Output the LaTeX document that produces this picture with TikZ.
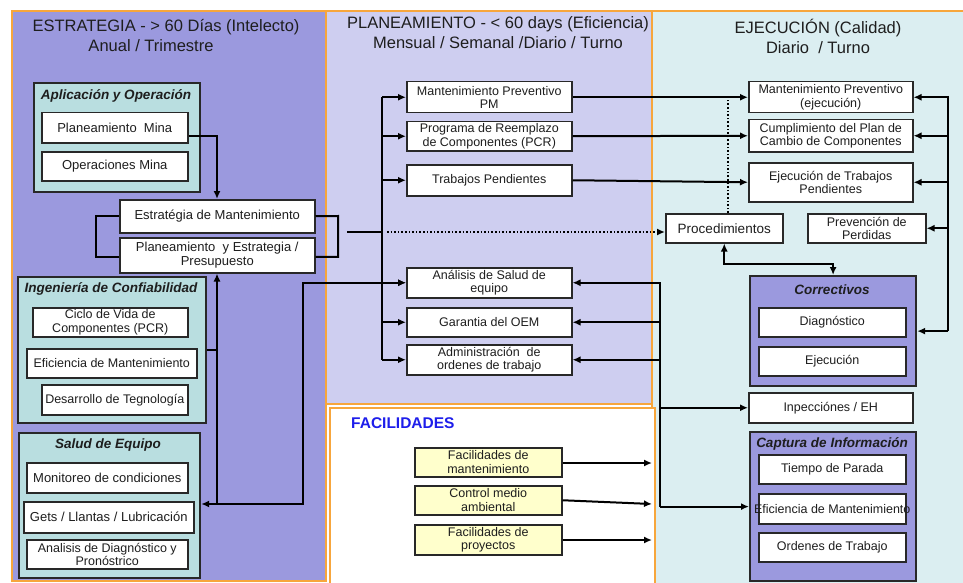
\documentclass[tikz,border=0pt]{standalone}
\usepackage{fontspec}
\setmainfont{Liberation Sans}
\usetikzlibrary{arrows.meta}

\definecolor{stratfill}{RGB}{155,153,222}
\definecolor{planfill}{RGB}{206,206,240}
\definecolor{execfill}{RGB}{219,238,241}
\definecolor{tealfill}{RGB}{185,222,224}
\definecolor{facfill}{RGB}{255,255,204}
\definecolor{panelline}{RGB}{247,166,60}
\definecolor{boxline}{RGB}{40,40,40}
\definecolor{factitle}{RGB}{30,30,235}
\definecolor{inktext}{RGB}{30,30,30}

\tikzset{
  panel/.style={draw=panelline, line width=1.3pt},
  box/.style={draw=boxline, fill=white, line width=1.5pt, align=center, text=inktext,
    inner sep=0pt, anchor=north west, font=\fontsize{12.5}{13.5}\selectfont},
  bigbox/.style={box, font=\fontsize{13}{14.5}\selectfont},
  facbox/.style={box, fill=facfill},
  grp/.style={draw=boxline, line width=2.2pt, inner sep=0pt, anchor=north west},
  grptitle/.style={font=\fontsize{13.5}{15}\selectfont\bfseries\itshape, inner sep=0pt, text=inktext},
  ptitle/.style={font=\fontsize{16.5}{20}\selectfont, align=center, inner sep=0pt, text=inktext},
  conn/.style={line width=2pt, black},
  tip/.style={-{Latex[length=8pt,width=7pt]}},
  arr/.style={conn, tip},
  dualarr/.style={conn, {Latex[length=8pt,width=7pt]}-{Latex[length=8pt,width=7pt]}},
  dots/.style={line width=1.6pt, black, dotted}
}

\begin{document}
\begin{tikzpicture}[x=1pt,y=-1pt]
\useasboundingbox (0,0) rectangle (963,583);
\fill[white] (0,0) rectangle (963,583);

% ---------- stage panels ----------
\filldraw[panel, fill=execfill] (652,11) rectangle (975,595);
\filldraw[panel, fill=stratfill] (12,11) rectangle (326,581);
\filldraw[panel, fill=planfill] (326,11) rectangle (652,404);
\filldraw[panel, fill=white] (330,408) rectangle (655,595);

\node[ptitle] (tE) at (166,36) {ESTRATEGIA - > 60 Días (Intelecto)\\\hspace*{-30pt}Anual / Trimestre};
\node[ptitle] (tP) at (498,33) {PLANEAMIENTO - < 60 days (Eficiencia)\\Mensual / Semanal /Diario / Turno};
\node[ptitle] (tX) at (818,36) {EJECUCIÓN (Calidad)\\Diario \ / Turno};
\node[font=\fontsize{15.5}{18}\selectfont\bfseries, text=factitle, anchor=west, inner sep=0pt] (tF) at (351,423) {FACILIDADES};

% ---------- strategy column ----------
\node[grp, fill=tealfill, minimum width=166pt, minimum height=109pt] (gAO) at (33,82) {};
\node[grptitle] (hAO) at (116,96) {Aplicación y Operación};
\node[bigbox, minimum width=146pt, minimum height=30pt] (bPM) at (41,112) {Planeamiento \ Mina};
\node[bigbox, minimum width=146pt, minimum height=29pt] (bOM) at (41,151) {Operaciones Mina};

\node[bigbox, minimum width=195pt, minimum height=33pt] (bEM) at (119,199) {Estratégia de Mantenimiento};
\node[bigbox, minimum width=195pt, minimum height=35pt] (bPE) at (119,237) {Planeamiento \ y Estrategia /\\Presupuesto};

\node[grp, fill=tealfill, minimum width=188pt, minimum height=146pt] (gIC) at (17,276) {};
\node[grptitle] (hIC) at (111,289) {Ingeniería de Confiabilidad};
\node[box, minimum width=155pt, minimum height=29pt] (bCV) at (32,307) {Ciclo de Vida de\\Componentes (PCR)};
\node[box, minimum width=170pt, minimum height=29pt] (bEF) at (26,348) {Eficiencia de Mantenimiento};
\node[box, minimum width=146pt, minimum height=30pt] (bDT) at (41,384) {Desarrollo de Tegnología};

\node[grp, fill=tealfill, minimum width=181pt, minimum height=145pt] (gSE) at (18,432) {};
\node[grptitle] (hSE) at (108,445) {Salud de Equipo};
\node[bigbox, minimum width=161pt, minimum height=30pt] (bMC) at (26,462) {Monitoreo de condiciones};
\node[bigbox, minimum width=170pt, minimum height=31pt] (bGL) at (23,501) {Gets / Llantas / Lubricación};
\node[box, minimum width=161pt, minimum height=29pt] (bAD) at (26,539) {Analisis de Diagnóstico y\\Pronóstrico};

% ---------- planning column ----------
\node[box, minimum width=165pt, minimum height=31pt] (mMP) at (406,81) {Mantenimiento Preventivo\\PM};
\node[box, minimum width=165pt, minimum height=29pt] (mPCR) at (406,121) {Programa de Reemplazo\\de Componentes (PCR)};
\node[box, minimum width=165pt, minimum height=31pt] (mTP) at (406,164) {Trabajos Pendientes};
\node[box, minimum width=165pt, minimum height=30pt] (mAS) at (406,267) {Análisis de Salud de\\equipo};
\node[box, minimum width=165pt, minimum height=29pt] (mGO) at (406,307) {Garantia del OEM};
\node[box, minimum width=165pt, minimum height=30pt] (mAO) at (406,344) {Administración \ de\\ordenes de trabajo};

% ---------- facilities ----------
\node[facbox, minimum width=147pt, minimum height=29pt] (fM) at (414,447) {Facilidades de\\mantenimiento};
\node[facbox, minimum width=147pt, minimum height=29pt] (fC) at (414,485) {Control medio\\ambiental};
\node[facbox, minimum width=147pt, minimum height=30pt] (fP) at (414,524) {Facilidades de\\proyectos};
\coordinate (fMend) at (652,463);
\coordinate (fCend) at (652,504);
\coordinate (fPend) at (652,540);

% ---------- execution column ----------
\node[box, minimum width=164pt, minimum height=31pt] (rMP) at (748,81) {Mantenimiento Preventivo\\(ejecución)};
\node[box, minimum width=164pt, minimum height=32pt] (rCP) at (748,119) {Cumplimiento del Plan de\\Cambio de Componentes};
\node[box, minimum width=164pt, minimum height=39pt] (rET) at (748,162) {Ejecución de Trabajos\\Pendientes};
\node[bigbox, font=\fontsize{13.5}{15}\selectfont, minimum width=117pt, minimum height=29pt] (rPR) at (665,213) {Procedimientos};
\node[box, minimum width=118pt, minimum height=29pt] (rPP) at (807,213) {Prevención de\\Perdidas};

\node[grp, fill=stratfill, minimum width=166pt, minimum height=110pt] (gCO) at (749,275) {};
\node[grptitle] (hCO) at (832,290) {Correctivos};
\node[box, minimum width=147pt, minimum height=29pt] (rDG) at (758,307) {Diagnóstico};
\node[box, minimum width=147pt, minimum height=29pt] (rEJ) at (758,346) {Ejecución};

\node[box, minimum width=164pt, minimum height=30pt] (rIN) at (748,392) {Inpecciónes / EH};

\node[grp, fill=stratfill, minimum width=166pt, minimum height=149pt] (gCI) at (749,431) {};
\node[grptitle] (hCI) at (832,444) {Captura de Información};
\node[box, minimum width=147pt, minimum height=29pt] (rTP) at (758,454) {Tiempo de Parada};
\node[box, minimum width=147pt, minimum height=30pt] (rEM) at (758,493) {};
\node[font=\fontsize{12.5}{13.5}\selectfont, text=inktext, inner sep=0pt] (rEMt) at (rEM.center) {Eficiencia de Mantenimiento};
\node[box, minimum width=147pt, minimum height=29pt] (rOT) at (758,532) {Ordenes de Trabajo};

% ---------- junction points ----------
\coordinate (jA) at (217,504);   % strategy feedback junction
\coordinate (jB) at (303,504);
\coordinate (bkR) at (338,216);  % right bracket of the strategy pair
\coordinate (jS) at (347,232);
\coordinate (spx) at (382,232);  % planning distribution spine
\coordinate (qx) at (660,282);   % execution feedback spine
\coordinate (rx) at (948,96);    % execution right spine

% ---------- connectors: strategy ----------
\draw[arr] ([yshift=-8pt]bPM.east) -| (bEM.north -| jA);
\draw[conn] (bEM.west) -- ++(-23,0) |- ([yshift=-1.5pt]bPE.west);
\draw[conn] (bEM.east) -- (bkR) |- ([yshift=-1.5pt]bPE.east);
\draw[conn] (gIC.east) -- (gIC.east -| jA);
\draw[arr] (jA) -- (bPE.south -| jA);
\draw[arr] (jA) -- (gSE.east |- jA);
\draw[arr] (jA) -- (jB) |- (mAS.west);

% ---------- connectors: planning ----------
\draw[conn] (jS) -- (spx);
\draw[conn] (mMP.west -| spx) -- (mAO.west -| spx);
\foreach \n in {mMP,mPCR,mTP,mAS,mGO,mAO}
  \draw[arr] (\n.west -| spx) -- (\n.west);
\draw[dots, tip] ([xshift=5pt]spx) -- (spx -| rPR.west);

\draw[arr] (mMP.east) -- (rMP.west);
\draw[arr] (mPCR.east) -- (rCP.west);
\draw[arr] (mTP.east) -- (rET.west);

% ---------- connectors: facilities ----------
\draw[arr] (fM.east |- fMend) -- (fMend);
\draw[arr] (fC.east) -- (fCend);
\draw[arr] (fP.east |- fPend) -- (fPend);

% ---------- connectors: execution ----------
\draw[dots] ([xshift=3.5pt]rPR.north) -- ([xshift=3.5pt]rPR.north |- rMP.west);
\draw[dualarr] (rPR.south) -- ++(0,20) -| (gCO.north);

\draw[conn] (rx) -- (rx |- gCO.east);
\foreach \n in {rMP,rCP,rET,rPP}
  \draw[arr] (\n.east -| rx) -- (\n.east);
\draw[arr] (gCO.east -| rx) -- (gCO.east);

\draw[conn] (qx) -- (qx |- gCI.west);
\draw[arr] (mAS.east -| qx) -- (mAS.east);
\draw[arr] (mGO.east -| qx) -- (mGO.east);
\draw[arr] (mAO.east -| qx) -- (mAO.east);
\draw[arr] (rIN.west -| qx) -- (rIN.west);
\draw[arr] (gCI.west -| qx) -- (gCI.west);
\end{tikzpicture}
\end{document}
